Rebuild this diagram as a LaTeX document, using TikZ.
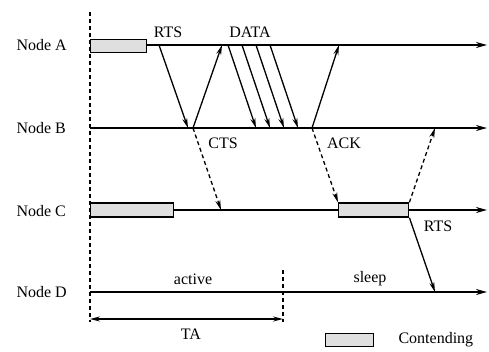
\documentclass[tikz,border=0pt]{standalone}
\usepackage{fontspec}
\setmainfont{Liberation Serif}
\usetikzlibrary{arrows.meta}
\begin{document}
\begin{tikzpicture}[x = 1pt, y = -1pt, font=\fontsize{16}{18}\selectfont,
		tline/.style = {line width=1.6pt, -{Stealth[length=11pt, width=6pt]}},
		msg/.style = {line width=1.3pt, -{Stealth[length=10pt, width=5pt]}},
		dmsg/.style = {msg, dash pattern=on 4pt off 3pt},
		contend/.style = {draw, line width=1.4pt, fill=gray!25, inner sep=0pt, anchor=west}]
		\useasboundingbox (0,0) rectangle (489,351);
		% node names
		\node [anchor=west] (nA) at (13,45) {Node A};
		\node [anchor=west] (nB) at (13,128) {Node B};
		\node [anchor=west] (nC) at (13,211) {Node C};
		\node [anchor=west] (nD) at (13,292) {Node D};
		% time lines
		\coordinate (a0) at (90,45);  \coordinate (a1) at (487,45);
		\coordinate (b0) at (90,128); \coordinate (b1) at (487,128);
		\coordinate (c0) at (90,210); \coordinate (c1) at (487,210);
		\coordinate (d0) at (90,292); \coordinate (d1) at (487,292);
		\draw [tline] (a0) -- (a1);
		\draw [tline] (b0) -- (b1);
		\draw [tline] (c0) -- (c1);
		\draw [tline] (d0) -- (d1);
		% start line
		\coordinate (s0) at (90,12); \coordinate (s1) at (90,322);
		\draw [line width=1.2pt, dash pattern=on 4pt off 3pt] (s0) -- (s1);
		% contending
		\node [contend, minimum width=56pt, minimum height=13pt] (boxA) at (90,46) {};
		\node [contend, minimum width=83pt, minimum height=14pt] (boxC) at (90,210) {};
		\node [contend, minimum width=70pt, minimum height=14pt] (boxC2) at (338,210) {};
		% RTS and CTS
		\coordinate (rts0) at (159,45); \coordinate (rts1) at (188,128);
		\coordinate (cts0) at (193,128); \coordinate (cts1) at (222,45);
		\coordinate (cts2) at (221,210);
		\draw [msg] (rts0) -- (rts1);
		\draw [msg] (cts0) -- (cts1);
		\draw [dmsg] (cts0) -- (cts2);
		\node (lrts) at (168,32) {RTS};
		\node (lcts) at (223,143) {CTS};
		% DATA
		\coordinate (da0) at (228,45); \coordinate (db0) at (256,128);
		\coordinate (da1) at (242,45); \coordinate (db1) at (270,128);
		\coordinate (da2) at (256,45); \coordinate (db2) at (284,128);
		\coordinate (da3) at (270,45); \coordinate (db3) at (298,128);
		\draw [msg] (da0) -- (db0);
		\draw [msg] (da1) -- (db1);
		\draw [msg] (da2) -- (db2);
		\draw [msg] (da3) -- (db3);
		\node (ldata) at (250,32) {DATA};
		% ACK
		\coordinate (ack0) at (312,128); \coordinate (ack1) at (339,45);
		\draw [msg] (ack0) -- (ack1);
		\draw [dmsg] (ack0) -- (boxC2.north west);
		\node (lack) at (344,143) {ACK};
		% RTS of node C
		\coordinate (cb) at (435,128); \coordinate (cd) at (435,292);
		\draw [dmsg] (boxC2.north east) -- (cb);
		\draw [msg] (boxC2.south east) -- (cd);
		\node (lrts2) at (438,226) {RTS};
		% active and sleep
		\coordinate (t0) at (283,270); \coordinate (t1) at (283,322);
		\draw [line width=1.2pt, dash pattern=on 4pt off 3pt] (t0) -- (t1);
		\node (lact) at (193,279) {active};
		\node (lsleep) at (370,279) {sleep};
		\coordinate (ta0) at (90,319); \coordinate (ta1) at (283,319);
		\draw [line width=1.3pt, {Stealth[length=10pt, width=5pt]}-{Stealth[length=10pt, width=5pt]}] (ta0) -- (ta1);
		\node (lta) at (191,334) {TA};
		% legend
		\node [contend, minimum width=48pt, minimum height=13pt] (leg) at (325,340) {};
		\node [anchor=west] (lleg) at (395,340) {Contending};
	\end{tikzpicture}
\end{document}
